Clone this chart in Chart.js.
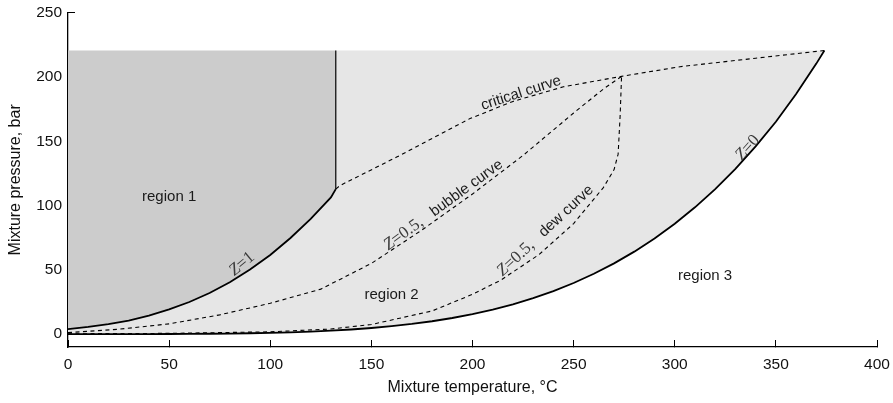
<!DOCTYPE html>
<html>
<head>
<meta charset="utf-8">
<script src="https://cdn.jsdelivr.net/npm/chart.js@4.4.1/dist/chart.umd.min.js"></script>
<style>
  html, body { margin: 0; padding: 0; background: #fff; }
  #wrap { width: 893px; height: 403px; }
</style>
</head>
<body>
<div id="wrap"><canvas id="chart" width="893" height="403"></canvas></div>
<script>
// ---- data (temperature in degC, pressure in bar) ----
// Z = 0 : pure water saturation curve
const waterT = [0, 10, 20, 30, 40, 50, 60, 70, 80, 90, 100, 110, 120, 130, 140, 150, 160, 170, 180, 190,
  200, 210, 220, 230, 240, 250, 260, 270, 280, 290, 300, 310, 320, 330, 340, 350, 360, 370, 374];
const waterP = [0.006, 0.012, 0.023, 0.042, 0.074, 0.123, 0.199, 0.312, 0.474, 0.701, 1.014, 1.433, 1.985,
  2.701, 3.614, 4.76, 6.18, 7.92, 10.03, 12.55, 15.55, 19.08, 23.2, 27.98, 33.48, 39.76, 46.92, 55.03,
  64.17, 74.42, 85.88, 98.65, 112.84, 128.6, 146.0, 165.2, 186.7, 210.4, 220.6];

// Z = 1 : pure ammonia saturation curve
const ammoniaT = [0, 10, 20, 30, 40, 50, 60, 70, 80, 90, 100, 110, 120, 130, 132.4];
const ammoniaP = [3.9, 5.6, 7.8, 10.6, 14.4, 19.2, 25.0, 32.0, 40.4, 50.2, 61.6, 74.8, 89.6, 106.4, 112.8];

// Z = 0.5 bubble and dew curves
const bubbleT = [0, 25, 50, 75, 100, 125, 150, 175, 200, 225, 250, 265, 273.7];
const bubbleP = [1.2, 3.8, 8, 15, 24, 35, 55, 81, 109, 139, 172, 191, 200.5];
const dewT = [0, 50, 100, 130, 150, 180, 200, 214, 233, 250, 264.7, 270, 272, 273, 273.7];
const dewP = [0.3, 0.6, 1.8, 4, 7.5, 18, 31, 42, 62, 86, 114, 128, 140, 170, 200.5];

// critical curve of the mixture
const critT = [132.4, 134.5, 162.5, 198.8, 220, 245, 273.7, 302.6, 340, 374];
const critP = [112.8, 115.6, 137.7, 167.7, 181, 192.4, 200.5, 208, 214.6, 220.6];

const tcAmmonia = 132.4;
const tcWater = 374;
const pcWater = 220.6;

const xTicks = [0, 50, 100, 150, 200, 250, 300, 350, 400];
const yTicks = [0, 50, 100, 150, 200, 250];

// text notes placed in data coordinates
const notes = [
  { parts: [['region 1', 'sans']], t: 50, p: 106.5, rot: 0 },
  { parts: [['region 2', 'sans']], t: 160, p: 30.6, rot: 0 },
  { parts: [['region 3', 'sans']], t: 315, p: 45.5, rot: 0 },
  { parts: [['critical curve', 'sans']], t: 224, p: 187.5, rot: -18 },
  { parts: [['Z', 'zi'], ['=0.5,', 'z'], ['   bubble curve', 'sans']], t: 185.6, p: 100.5, rot: -36 },
  { parts: [['Z', 'zi'], ['=0.5,', 'z'], ['   dew curve', 'sans']], t: 236, p: 80.5, rot: -43 },
  { parts: [['Z', 'zi'], ['=1', 'z']], t: 86, p: 54.5, rot: -40 },
  { parts: [['Z', 'zi'], ['=0', 'z']], t: 336, p: 145, rot: -48 }
];

// ---- build point lists ----
const pts = (xs, ys) => xs.map((x, i) => ({ x: x, y: ys[i] }));
const water = pts(waterT, waterP);
const ammonia = pts(ammoniaT, ammoniaP);

const region1 = [{ x: 0, y: pcWater }]
  .concat(ammonia)
  .concat([{ x: tcAmmonia, y: pcWater }]);
const region2 = [{ x: tcAmmonia, y: pcWater }, { x: tcWater, y: pcWater }]
  .concat(water.slice().reverse())
  .concat(ammonia);

function curve(data, width, dash) {
  return {
    data: data,
    showLine: true,
    borderColor: '#000',
    borderWidth: width,
    borderDash: dash || [],
    pointRadius: 0,
    fill: false,
    tension: 0,
    order: 1
  };
}
function area(data, color) {
  return {
    data: data,
    showLine: true,
    borderWidth: 0,
    borderColor: 'rgba(0,0,0,0)',
    backgroundColor: color,
    pointRadius: 0,
    fill: 'shape',
    tension: 0,
    order: 10
  };
}

const fonts = {
  sans: '15px "Liberation Sans", Arial, sans-serif',
  zi: 'italic 17px "Liberation Serif", serif',
  z: '17px "Liberation Serif", serif'
};

const notesPlugin = {
  id: 'notes',
  afterDatasetsDraw(chart) {
    const { ctx, scales: { x, y } } = chart;
    notes.forEach(n => {
      ctx.save();
      ctx.translate(x.getPixelForValue(n.t), y.getPixelForValue(n.p));
      ctx.rotate(n.rot * Math.PI / 180);
      ctx.textBaseline = 'middle';
      ctx.textAlign = 'left';
      let total = 0;
      n.parts.forEach(([s, f]) => { ctx.font = fonts[f]; total += ctx.measureText(s).width; });
      let cx = -total / 2;
      n.parts.forEach(([s, f]) => {
        ctx.font = fonts[f];
        ctx.fillStyle = f === 'sans' ? '#1a1a1a' : '#3a3a3a';
        ctx.fillText(s, cx, 0);
        cx += ctx.measureText(s).width;
      });
      ctx.restore();
    });
  }
};

const tickFont = { family: '"Liberation Sans", Arial, sans-serif', size: 15.5 };
const titleFont = { family: '"Liberation Sans", Arial, sans-serif', size: 16 };

new Chart(document.getElementById('chart'), {
  type: 'scatter',
  data: {
    datasets: [
      curve(ammonia, 1.8),
      curve(water, 1.8),
      curve([{ x: tcAmmonia, y: ammoniaP[ammoniaP.length - 1] }, { x: tcAmmonia, y: pcWater }], 1.2),
      curve(pts(critT, critP), 1.1, [4, 3.5]),
      curve(pts(bubbleT, bubbleP), 1.1, [4, 3.5]),
      curve(pts(dewT, dewP), 1.1, [4, 3.5]),
      area(region1, '#cccccc'),
      area(region2, '#e6e6e6')
    ]
  },
  options: {
    responsive: false,
    animation: false,
    layout: { padding: { top: 12.7, right: 16, left: 0, bottom: 0 } },
    plugins: { legend: { display: false }, tooltip: { enabled: false } },
    scales: {
      x: {
        type: 'linear',
        min: 0,
        max: 400,
        afterBuildTicks: s => { s.ticks = xTicks.map(v => ({ value: v })); },
        afterFit: s => { s.height = 56; s.paddingLeft = 0; s.paddingRight = 0; },
        border: { color: '#000', width: 1.3 },
        grid: { drawOnChartArea: false, tickLength: -7, color: '#000', lineWidth: 1 },
        ticks: { color: '#111', padding: 15, maxRotation: 0, font: tickFont },
        title: {
          display: true,
          text: 'Mixture temperature, °C',
          color: '#111',
          padding: { top: 0, bottom: 6 },
          font: titleFont
        }
      },
      y: {
        type: 'linear',
        min: -10,
        max: 250,
        afterBuildTicks: s => { s.ticks = yTicks.map(v => ({ value: v })); },
        afterFit: s => { s.width = 68; s.paddingTop = 0; s.paddingBottom = 0; },
        border: { color: '#000', width: 1.3 },
        grid: { drawOnChartArea: false, tickLength: -7, color: '#000', lineWidth: 1 },
        ticks: { color: '#111', padding: 13, font: tickFont },
        title: {
          display: true,
          text: 'Mixture pressure, bar',
          color: '#111',
          padding: { top: 6, bottom: 0 },
          font: titleFont
        }
      }
    }
  },
  plugins: [notesPlugin]
});
</script>
</body>
</html>
